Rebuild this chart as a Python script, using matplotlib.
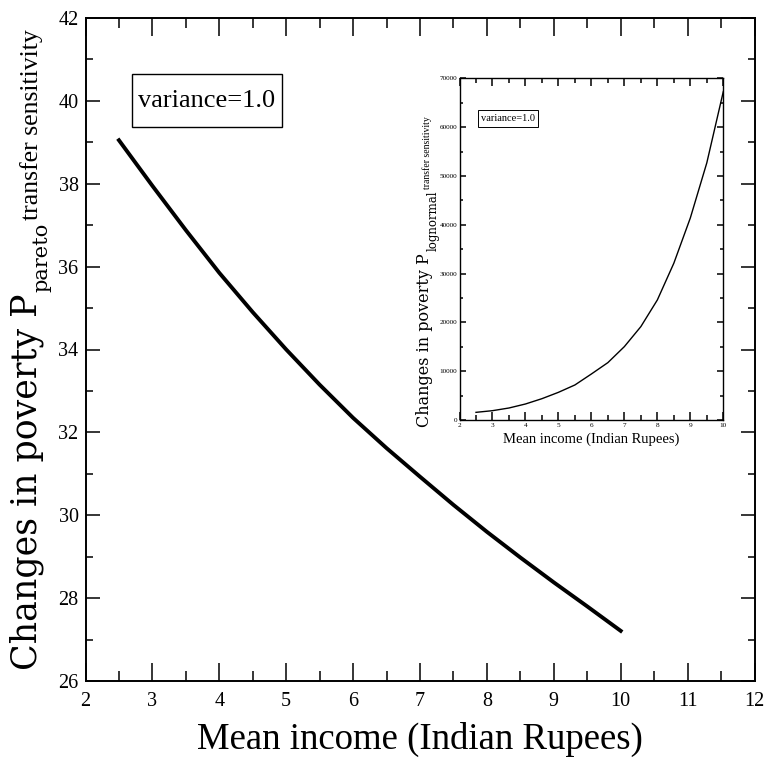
import matplotlib
matplotlib.use("Agg")
import matplotlib.pyplot as plt
from matplotlib.patches import Rectangle
from matplotlib.ticker import MultipleLocator

# mean income grid shared by both curves
income = [2.5, 3.0, 3.5, 4.0, 4.5, 5.0, 5.5, 6.0, 6.5, 7.0, 7.5, 8.0, 8.5, 9.0, 9.5, 10.0]
# main panel: pareto transfer sensitivity
pareto = [39.05, 37.95, 36.88, 35.85, 34.9, 34.0, 33.15, 32.35, 31.62, 30.93,
          30.25, 29.6, 28.98, 28.38, 27.8, 27.21]
# inset: lognormal transfer sensitivity
lognormal = [1570, 1910, 2460, 3280, 4370, 5670, 7180, 9430, 11760, 15040,
             19140, 24600, 32130, 41400, 52700, 67300]

W, H = 768, 762
SERIF = "Liberation Serif"
WIDE = "DejaVu Serif"

fig = plt.figure(figsize=(W / 100, H / 100), dpi=100)


def px_rect(x0, y0, x1, y1):
    return [x0 / W, 1 - y1 / H, (x1 - x0) / W, (y1 - y0) / H]


def style_ticks(a, size, xlen, ylen, xpad, ypad):
    a.tick_params(which="both", direction="in", top=True, right=True,
                  labelsize=size, width=1.1)
    a.tick_params(axis="x", which="major", length=xlen, pad=xpad)
    a.tick_params(axis="x", which="minor", length=xlen * 0.55)
    a.tick_params(axis="y", which="major", length=ylen, pad=ypad)
    a.tick_params(axis="y", which="minor", length=ylen * 0.5)
    for lab in a.get_xticklabels() + a.get_yticklabels():
        lab.set_family(SERIF)


# ---- main panel ----
ax = fig.add_axes(px_rect(85.5, 18, 754.5, 681))
ax.plot(income, pareto, color="k", lw=2.8)
ax.set_xlim(2, 12)
ax.set_ylim(26, 42)
ax.xaxis.set_major_locator(MultipleLocator(1))
ax.xaxis.set_minor_locator(MultipleLocator(0.5))
ax.yaxis.set_major_locator(MultipleLocator(2))
ax.yaxis.set_minor_locator(MultipleLocator(1))
for s in ax.spines.values():
    s.set_linewidth(1.4)
style_ticks(ax, 14.5, 13, 10, 8, 5)
ax.set_xlabel("Mean income (Indian Rupees)", family=SERIF, fontsize=26.5, labelpad=8)
ax.add_patch(Rectangle((0.070, 0.836), 0.223, 0.079, transform=ax.transAxes,
                       fill=False, ec="k", lw=1.0))
ax.text(0.1815, 0.8755, "variance=1.0", transform=ax.transAxes, ha="center",
        va="center", family=SERIF, fontsize=19)

# ---- inset ----
ins = fig.add_axes(px_rect(459.5, 78.4, 723.3, 420))
ins.plot(income, lognormal, color="k", lw=1.0)
ins.set_xlim(2, 10)
ins.set_ylim(0, 70000)
ins.xaxis.set_major_locator(MultipleLocator(1))
ins.xaxis.set_minor_locator(MultipleLocator(0.5))
ins.yaxis.set_major_locator(MultipleLocator(10000))
ins.yaxis.set_minor_locator(MultipleLocator(5000))
for s in ins.spines.values():
    s.set_linewidth(1.0)
style_ticks(ins, 5.2, 6, 4, 2.5, 1.5)
ins.set_xlabel("Mean income (Indian Rupees)", family=SERIF, fontsize=10.5, labelpad=3)
ins.add_patch(Rectangle((0.071, 0.859), 0.228, 0.048, transform=ins.transAxes,
                        fill=False, ec="k", lw=0.7))
ins.text(0.185, 0.883, "variance=1.0", transform=ins.transAxes, ha="center",
         va="center", family=SERIF, fontsize=7.5)

# ---- y labels: main text, subscript, then superscript, drawn end to end ----
renderer = fig.canvas.get_renderer()


def chained_label(y_start, parts):
    y = y_start
    for text, size, fam, base_x in parts:
        t = fig.text(base_x / W, 1 - y / H, text, rotation=90, rotation_mode="anchor",
                     ha="left", va="baseline", fontsize=size, family=fam)
        bb = t.get_window_extent(renderer)
        y = H - bb.y1 - 2


chained_label(670, [("Changes in poverty P", 25, WIDE, 36),
                    ("pareto", 15, WIDE, 47),
                    ("transfer sensitivity", 18.5, SERIF, 38)])
chained_label(427, [("Changes in poverty P", 11.5, WIDE, 429),
                    ("lognormal", 8.5, WIDE, 436.5),
                    ("transfer sensitivity", 7, SERIF, 430.5)])

fig.savefig("out.png", dpi=100)
